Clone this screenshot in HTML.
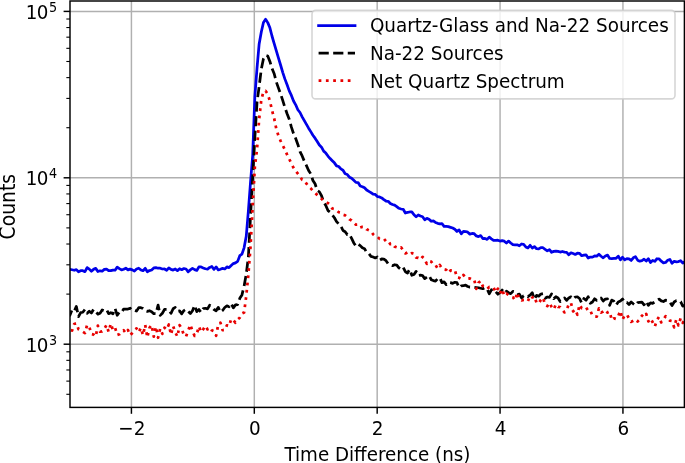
<!DOCTYPE html>
<html><head><meta charset="utf-8"><style>
html,body{margin:0;padding:0;background:#fff;}
svg{display:block;}
text{font-family:"DejaVu Sans","Liberation Sans",sans-serif;fill:#000;}
</style></head><body>
<svg width="685" height="463" viewBox="0 0 685 463">
<rect width="685" height="463" fill="#fff"/>
<defs><clipPath id="ax"><rect x="70.0" y="1.0" width="614.4" height="406.4"/></clipPath></defs>

<g stroke="#b0b0b0" stroke-width="1.46"><line x1="131.42" y1="1.0" x2="131.42" y2="407.4"/><line x1="254.30" y1="1.0" x2="254.30" y2="407.4"/><line x1="377.18" y1="1.0" x2="377.18" y2="407.4"/><line x1="500.06" y1="1.0" x2="500.06" y2="407.4"/><line x1="622.94" y1="1.0" x2="622.94" y2="407.4"/><line x1="70.0" y1="344.20" x2="684.4" y2="344.20"/><line x1="70.0" y1="177.80" x2="684.4" y2="177.80"/><line x1="70.0" y1="11.40" x2="684.4" y2="11.40"/></g>
<g clip-path="url(#ax)" fill="none" stroke-linejoin="round">
<path d="M57.01,270.14 L59.16,267.97 L61.31,269.88 L63.46,268.86 L65.61,269.28 L67.76,269.14 L69.91,269.42 L72.06,269.74 L74.21,270.25 L76.36,269.60 L78.51,271.74 L80.66,270.72 L82.81,270.65 L84.97,271.69 L87.12,267.59 L89.27,269.12 L91.42,271.19 L93.57,269.35 L95.72,268.36 L97.87,271.53 L100.02,270.79 L102.17,271.22 L104.32,269.37 L106.47,269.02 L108.62,270.67 L110.77,270.70 L112.92,270.18 L115.07,270.23 L117.22,267.14 L119.37,268.58 L121.52,269.90 L123.67,269.18 L125.82,268.17 L127.97,269.87 L130.12,269.13 L132.27,269.91 L134.42,271.11 L136.57,269.05 L138.73,268.25 L140.88,269.91 L143.03,270.73 L145.18,268.32 L147.33,271.79 L149.48,270.56 L151.63,269.95 L153.78,267.93 L155.93,267.71 L158.08,268.24 L160.23,268.20 L162.38,269.00 L164.53,268.96 L166.68,270.22 L168.83,267.92 L170.98,269.42 L173.13,270.07 L175.28,268.99 L177.43,270.64 L179.58,268.75 L181.73,269.67 L183.88,268.52 L186.03,269.00 L188.18,271.79 L190.33,269.88 L192.49,268.36 L194.64,269.60 L196.79,270.45 L198.94,266.83 L201.09,266.98 L203.24,267.93 L205.39,268.76 L207.54,269.07 L209.69,267.42 L211.84,266.50 L213.99,269.30 L216.14,266.92 L218.29,269.93 L220.44,269.18 L222.59,268.34 L224.74,268.98 L226.89,266.89 L229.04,267.60 L231.19,265.42 L233.34,263.58 L235.49,262.84 L237.64,261.37 L239.79,255.70 L241.94,254.17 L244.09,247.87 L246.25,236.28 L248.40,210.63 L250.55,181.75 L252.70,155.35 L254.85,96.40 L257.00,68.45 L259.15,43.95 L261.30,32.06 L263.45,22.54 L265.60,19.28 L267.75,22.63 L269.90,27.84 L272.05,36.26 L274.20,43.63 L276.35,50.96 L278.50,58.23 L280.65,65.23 L282.80,72.59 L284.95,79.13 L287.10,84.79 L289.25,90.88 L291.40,95.44 L293.55,101.03 L295.70,104.82 L297.85,109.74 L300.01,112.49 L302.16,116.80 L304.31,120.71 L306.46,124.43 L308.61,128.17 L310.76,131.64 L312.91,135.21 L315.06,138.14 L317.21,141.48 L319.36,145.06 L321.51,147.17 L323.66,151.14 L325.81,153.09 L327.96,156.07 L330.11,158.56 L332.26,160.73 L334.41,162.83 L336.56,165.86 L338.71,166.49 L340.86,168.91 L343.01,170.21 L345.16,173.80 L347.31,174.54 L349.46,177.18 L351.61,178.23 L353.77,180.29 L355.92,182.39 L358.07,182.54 L360.22,186.05 L362.37,186.72 L364.52,187.76 L366.67,190.02 L368.82,191.31 L370.97,192.60 L373.12,194.18 L375.27,194.46 L377.42,196.55 L379.57,196.92 L381.72,197.90 L383.87,199.64 L386.02,201.02 L388.17,201.28 L390.32,203.52 L392.47,204.52 L394.62,205.09 L396.77,206.63 L398.92,208.30 L401.07,208.99 L403.22,209.30 L405.37,213.03 L407.53,212.44 L409.68,211.97 L411.83,211.88 L413.98,214.81 L416.13,216.81 L418.28,214.91 L420.43,215.95 L422.58,216.68 L424.73,219.74 L426.88,218.37 L429.03,219.20 L431.18,221.27 L433.33,220.88 L435.48,222.41 L437.63,223.31 L439.78,223.85 L441.93,223.52 L444.08,226.43 L446.23,226.41 L448.38,226.67 L450.53,227.35 L452.68,228.07 L454.83,229.28 L456.98,231.46 L459.13,229.99 L461.29,233.75 L463.44,231.32 L465.59,231.53 L467.74,232.14 L469.89,234.12 L472.04,233.45 L474.19,233.72 L476.34,235.93 L478.49,236.63 L480.64,235.56 L482.79,238.56 L484.94,238.36 L487.09,239.43 L489.24,237.12 L491.39,238.82 L493.54,240.37 L495.69,240.32 L497.84,240.18 L499.99,241.07 L502.14,240.67 L504.29,241.16 L506.44,243.05 L508.59,241.08 L510.74,243.00 L512.89,244.65 L515.05,244.92 L517.20,244.78 L519.35,245.74 L521.50,244.00 L523.65,244.45 L525.80,246.90 L527.95,247.88 L530.10,245.32 L532.25,247.99 L534.40,246.60 L536.55,248.71 L538.70,248.95 L540.85,247.64 L543.00,247.74 L545.15,249.32 L547.30,250.78 L549.45,249.72 L551.60,252.24 L553.75,251.39 L555.90,251.08 L558.05,251.39 L560.20,252.06 L562.35,251.45 L564.50,252.12 L566.65,252.31 L568.81,254.80 L570.96,252.82 L573.11,253.57 L575.26,254.47 L577.41,253.21 L579.56,253.39 L581.71,255.73 L583.86,255.12 L586.01,254.77 L588.16,258.03 L590.31,257.04 L592.46,257.10 L594.61,255.96 L596.76,256.12 L598.91,254.21 L601.06,256.24 L603.21,257.80 L605.36,255.93 L607.51,255.10 L609.66,258.47 L611.81,258.51 L613.96,258.35 L616.11,258.27 L618.26,256.10 L620.41,259.87 L622.57,257.24 L624.72,259.94 L626.87,258.65 L629.02,258.87 L631.17,260.44 L633.32,257.79 L635.47,256.61 L637.62,260.14 L639.77,261.16 L641.92,260.68 L644.07,259.23 L646.22,261.03 L648.37,258.70 L650.52,262.54 L652.67,260.40 L654.82,261.33 L656.97,258.75 L659.12,258.82 L661.27,261.23 L663.42,262.80 L665.57,262.41 L667.72,260.30 L669.87,259.40 L672.02,263.31 L674.17,261.27 L676.33,261.80 L678.48,261.58 L680.63,260.66 L682.78,262.98 L684.93,261.61 L687.08,264.32 L689.23,262.57 L691.38,263.00 L693.53,263.56 L695.68,261.72 L697.83,262.66" stroke="#0000e8" stroke-width="2.75" stroke-linecap="square"/>
<path d="M57.01,314.85 L59.16,312.91 L61.31,310.42 L63.46,308.23 L65.61,309.29 L67.76,314.44 L69.91,315.31 L72.06,309.77 L74.21,311.24 L76.36,306.41 L78.51,316.60 L80.66,312.63 L82.81,312.24 L84.97,309.34 L87.12,313.30 L89.27,311.19 L91.42,312.97 L93.57,309.29 L95.72,311.35 L97.87,314.10 L100.02,313.25 L102.17,309.94 L104.32,310.70 L106.47,309.51 L108.62,313.65 L110.77,312.64 L112.92,313.89 L115.07,308.36 L117.22,315.29 L119.37,312.17 L121.52,312.51 L123.67,309.08 L125.82,309.19 L127.97,309.04 L130.12,308.25 L132.27,310.45 L134.42,310.46 L136.57,311.01 L138.73,307.70 L140.88,307.70 L143.03,308.60 L145.18,310.76 L147.33,311.42 L149.48,310.70 L151.63,311.64 L153.78,313.65 L155.93,313.76 L158.08,305.13 L160.23,315.37 L162.38,313.24 L164.53,309.44 L166.68,309.43 L168.83,310.18 L170.98,313.33 L173.13,308.77 L175.28,307.45 L177.43,311.14 L179.58,310.86 L181.73,313.87 L183.88,310.58 L186.03,309.33 L188.18,311.45 L190.33,313.57 L192.49,310.76 L194.64,305.34 L196.79,311.58 L198.94,309.45 L201.09,312.39 L203.24,308.61 L205.39,308.26 L207.54,308.87 L209.69,305.26 L211.84,307.24 L213.99,309.49 L216.14,310.79 L218.29,307.35 L220.44,312.14 L222.59,310.45 L224.74,307.49 L226.89,305.81 L229.04,306.73 L231.19,303.43 L233.34,307.84 L235.49,304.94 L237.64,304.55 L239.79,298.34 L241.94,294.92 L244.09,286.23 L246.25,274.14 L248.40,256.53 L250.55,215.46 L252.70,177.14 L254.85,137.69 L257.00,102.57 L259.15,86.45 L261.30,69.19 L263.45,58.77 L265.60,55.40 L267.75,56.04 L269.90,61.46 L272.05,68.53 L274.20,73.72 L276.35,82.08 L278.50,88.14 L280.65,94.04 L282.80,100.68 L284.95,107.56 L287.10,113.78 L289.25,119.25 L291.40,127.17 L293.55,133.69 L295.70,138.42 L297.85,144.45 L300.01,151.56 L302.16,155.91 L304.31,161.19 L306.46,165.57 L308.61,170.44 L310.76,173.81 L312.91,180.48 L315.06,183.77 L317.21,190.45 L319.36,191.81 L321.51,195.69 L323.66,201.92 L325.81,205.42 L327.96,210.55 L330.11,212.19 L332.26,214.88 L334.41,217.79 L336.56,221.58 L338.71,223.90 L340.86,226.07 L343.01,230.48 L345.16,231.71 L347.31,234.63 L349.46,234.26 L351.61,238.32 L353.77,242.92 L355.92,246.05 L358.07,244.17 L360.22,245.60 L362.37,247.79 L364.52,248.69 L366.67,252.49 L368.82,253.54 L370.97,256.34 L373.12,257.02 L375.27,257.91 L377.42,256.96 L379.57,260.33 L381.72,258.98 L383.87,259.14 L386.02,260.72 L388.17,263.81 L390.32,265.23 L392.47,265.71 L394.62,264.75 L396.77,265.13 L398.92,267.89 L401.07,269.44 L403.22,267.43 L405.37,271.69 L407.53,272.95 L409.68,269.33 L411.83,275.28 L413.98,274.54 L416.13,271.37 L418.28,275.64 L420.43,275.05 L422.58,275.62 L424.73,278.59 L426.88,277.08 L429.03,275.51 L431.18,279.68 L433.33,280.60 L435.48,281.10 L437.63,278.72 L439.78,277.68 L441.93,282.62 L444.08,281.89 L446.23,284.66 L448.38,282.25 L450.53,282.63 L452.68,283.36 L454.83,282.27 L456.98,282.70 L459.13,287.55 L461.29,285.75 L463.44,285.74 L465.59,285.12 L467.74,286.51 L469.89,287.18 L472.04,287.06 L474.19,287.30 L476.34,287.54 L478.49,287.75 L480.64,288.24 L482.79,288.73 L484.94,287.62 L487.09,288.87 L489.24,293.73 L491.39,289.80 L493.54,292.44 L495.69,291.66 L497.84,294.20 L499.99,292.59 L502.14,290.07 L504.29,293.16 L506.44,291.24 L508.59,292.70 L510.74,293.67 L512.89,291.41 L515.05,291.99 L517.20,294.77 L519.35,294.11 L521.50,297.94 L523.65,295.72 L525.80,295.06 L527.95,296.52 L530.10,295.14 L532.25,292.76 L534.40,299.21 L536.55,295.41 L538.70,296.21 L540.85,294.10 L543.00,293.71 L545.15,298.21 L547.30,296.99 L549.45,297.40 L551.60,293.87 L553.75,298.61 L555.90,296.75 L558.05,297.94 L560.20,301.56 L562.35,299.53 L564.50,297.93 L566.65,300.41 L568.81,297.96 L570.96,296.79 L573.11,299.09 L575.26,297.00 L577.41,296.97 L579.56,298.50 L581.71,303.03 L583.86,298.49 L586.01,300.23 L588.16,296.71 L590.31,303.26 L592.46,301.97 L594.61,298.82 L596.76,300.43 L598.91,300.22 L601.06,298.01 L603.21,301.03 L605.36,299.08 L607.51,298.87 L609.66,305.34 L611.81,300.09 L613.96,301.30 L616.11,305.17 L618.26,301.99 L620.41,301.01 L622.57,299.06 L624.72,302.56 L626.87,302.35 L629.02,304.50 L631.17,302.02 L633.32,303.77 L635.47,305.30 L637.62,302.55 L639.77,302.29 L641.92,302.08 L644.07,304.78 L646.22,301.24 L648.37,305.36 L650.52,302.90 L652.67,303.28 L654.82,302.09 L656.97,300.36 L659.12,299.08 L661.27,300.90 L663.42,301.51 L665.57,300.22 L667.72,300.35 L669.87,302.25 L672.02,305.51 L674.17,301.99 L676.33,300.59 L678.48,300.39 L680.63,301.71 L682.78,306.12 L684.93,305.35 L687.08,304.18 L689.23,301.48 L691.38,300.57 L693.53,301.99 L695.68,301.17 L697.83,302.56" stroke="#000" stroke-width="2.75" stroke-dasharray="10.18 4.40"/>
<path d="M57.01,331.33 L59.16,334.66 L61.31,335.82 L63.46,326.83 L65.61,331.17 L67.76,327.41 L69.91,329.58 L72.06,330.63 L74.21,323.95 L76.36,323.35 L78.51,329.18 L80.66,330.27 L82.81,331.81 L84.97,333.14 L87.12,324.85 L89.27,326.73 L91.42,334.08 L93.57,334.57 L95.72,336.60 L97.87,325.58 L100.02,331.73 L102.17,331.30 L104.32,329.02 L106.47,325.01 L108.62,331.82 L110.77,323.59 L112.92,330.01 L115.07,327.72 L117.22,334.96 L119.37,334.24 L121.52,331.85 L123.67,330.32 L125.82,333.31 L127.97,330.05 L130.12,335.25 L132.27,332.98 L134.42,330.32 L136.57,328.34 L138.73,332.35 L140.88,327.89 L143.03,335.06 L145.18,324.81 L147.33,337.49 L149.48,327.84 L151.63,324.98 L153.78,336.66 L155.93,326.70 L158.08,337.76 L160.23,328.48 L162.38,333.86 L164.53,327.63 L166.68,329.68 L168.83,324.51 L170.98,334.65 L173.13,326.14 L175.28,332.28 L177.43,336.62 L179.58,325.17 L181.73,328.65 L183.88,335.22 L186.03,336.58 L188.18,330.56 L190.33,324.65 L192.49,331.10 L194.64,335.93 L196.79,333.76 L198.94,326.44 L201.09,332.07 L203.24,329.23 L205.39,325.89 L207.54,329.42 L209.69,327.49 L211.84,330.31 L213.99,331.14 L216.14,335.79 L218.29,324.27 L220.44,322.72 L222.59,330.18 L224.74,330.12 L226.89,325.36 L229.04,326.26 L231.19,318.97 L233.34,320.13 L235.49,322.76 L237.64,319.53 L239.79,317.69 L241.94,313.56 L244.09,312.54 L246.25,296.02 L248.40,274.46 L250.55,246.39 L252.70,205.67 L254.85,166.85 L257.00,149.63 L259.15,119.03 L261.30,99.95 L263.45,91.64 L265.60,90.88 L267.75,94.25 L269.90,101.07 L272.05,110.33 L274.20,118.60 L276.35,129.16 L278.50,135.84 L280.65,141.06 L282.80,145.47 L284.95,149.73 L287.10,154.72 L289.25,159.14 L291.40,163.50 L293.55,167.81 L295.70,171.08 L297.85,173.68 L300.01,176.47 L302.16,179.80 L304.31,180.36 L306.46,183.63 L308.61,186.54 L310.76,188.37 L312.91,190.80 L315.06,192.75 L317.21,195.01 L319.36,197.06 L321.51,198.79 L323.66,201.04 L325.81,201.90 L327.96,203.10 L330.11,204.88 L332.26,208.49 L334.41,208.95 L336.56,210.45 L338.71,212.20 L340.86,212.58 L343.01,214.72 L345.16,215.31 L347.31,216.92 L349.46,219.28 L351.61,220.44 L353.77,222.73 L355.92,224.73 L358.07,224.60 L360.22,227.57 L362.37,226.83 L364.52,226.87 L366.67,229.35 L368.82,230.24 L370.97,231.19 L373.12,234.34 L375.27,236.05 L377.42,236.65 L379.57,238.88 L381.72,239.19 L383.87,238.58 L386.02,241.38 L388.17,240.81 L390.32,244.20 L392.47,243.60 L394.62,246.57 L396.77,247.28 L398.92,248.48 L401.07,247.44 L403.22,250.25 L405.37,253.45 L407.53,252.40 L409.68,254.36 L411.83,253.07 L413.98,253.65 L416.13,257.64 L418.28,257.76 L420.43,259.45 L422.58,256.85 L424.73,259.81 L426.88,263.92 L429.03,261.06 L431.18,261.61 L433.33,264.44 L435.48,264.97 L437.63,268.50 L439.78,265.03 L441.93,268.34 L444.08,269.34 L446.23,269.80 L448.38,272.93 L450.53,270.43 L452.68,270.42 L454.83,269.94 L456.98,277.43 L459.13,277.76 L461.29,278.99 L463.44,274.98 L465.59,277.42 L467.74,278.72 L469.89,278.46 L472.04,279.57 L474.19,279.48 L476.34,288.87 L478.49,282.83 L480.64,280.86 L482.79,286.24 L484.94,287.81 L487.09,288.98 L489.24,286.98 L491.39,287.50 L493.54,287.50 L495.69,292.25 L497.84,288.64 L499.99,293.64 L502.14,289.15 L504.29,295.74 L506.44,293.46 L508.59,295.14 L510.74,296.47 L512.89,297.27 L515.05,300.34 L517.20,292.53 L519.35,299.49 L521.50,300.49 L523.65,299.90 L525.80,299.72 L527.95,301.16 L530.10,295.76 L532.25,297.45 L534.40,296.26 L536.55,302.79 L538.70,303.58 L540.85,299.76 L543.00,297.61 L545.15,305.01 L547.30,306.13 L549.45,302.89 L551.60,306.86 L553.75,309.54 L555.90,304.30 L558.05,306.99 L560.20,307.06 L562.35,309.77 L564.50,312.36 L566.65,310.56 L568.81,303.85 L570.96,302.82 L573.11,311.40 L575.26,309.49 L577.41,314.77 L579.56,304.73 L581.71,308.22 L583.86,308.44 L586.01,307.24 L588.16,310.91 L590.31,310.50 L592.46,315.65 L594.61,316.58 L596.76,316.62 L598.91,308.35 L601.06,312.61 L603.21,311.53 L605.36,309.92 L607.51,312.59 L609.66,311.68 L611.81,320.19 L613.96,318.36 L616.11,318.99 L618.26,315.77 L620.41,310.91 L622.57,319.56 L624.72,315.32 L626.87,314.50 L629.02,318.45 L631.17,321.91 L633.32,320.73 L635.47,319.32 L637.62,321.49 L639.77,319.46 L641.92,315.57 L644.07,317.27 L646.22,313.84 L648.37,321.43 L650.52,318.51 L652.67,322.27 L654.82,326.60 L656.97,320.14 L659.12,316.72 L661.27,322.39 L663.42,319.74 L665.57,316.25 L667.72,318.73 L669.87,320.65 L672.02,321.08 L674.17,327.42 L676.33,319.39 L678.48,325.45 L680.63,318.28 L682.78,322.90 L684.93,318.60 L687.08,325.33 L689.23,320.73 L691.38,321.32 L693.53,320.19 L695.68,320.95 L697.83,320.77" stroke="#e80000" stroke-width="2.75" stroke-dasharray="2.75 4.54"/>
</g>
<g stroke="#000"><line x1="131.42" y1="407.4" x2="131.42" y2="413.79999999999995" stroke-width="1.46"/><line x1="254.30" y1="407.4" x2="254.30" y2="413.79999999999995" stroke-width="1.46"/><line x1="377.18" y1="407.4" x2="377.18" y2="413.79999999999995" stroke-width="1.46"/><line x1="500.06" y1="407.4" x2="500.06" y2="413.79999999999995" stroke-width="1.46"/><line x1="622.94" y1="407.4" x2="622.94" y2="413.79999999999995" stroke-width="1.46"/><line x1="70.0" y1="344.20" x2="63.6" y2="344.20" stroke-width="1.46"/><line x1="70.0" y1="177.80" x2="63.6" y2="177.80" stroke-width="1.46"/><line x1="70.0" y1="11.40" x2="63.6" y2="11.40" stroke-width="1.46"/><line x1="70.0" y1="394.29" x2="66.34" y2="394.29" stroke-width="1.1"/><line x1="70.0" y1="381.12" x2="66.34" y2="381.12" stroke-width="1.1"/><line x1="70.0" y1="369.98" x2="66.34" y2="369.98" stroke-width="1.1"/><line x1="70.0" y1="360.33" x2="66.34" y2="360.33" stroke-width="1.1"/><line x1="70.0" y1="351.81" x2="66.34" y2="351.81" stroke-width="1.1"/><line x1="70.0" y1="294.11" x2="66.34" y2="294.11" stroke-width="1.1"/><line x1="70.0" y1="264.81" x2="66.34" y2="264.81" stroke-width="1.1"/><line x1="70.0" y1="244.02" x2="66.34" y2="244.02" stroke-width="1.1"/><line x1="70.0" y1="227.89" x2="66.34" y2="227.89" stroke-width="1.1"/><line x1="70.0" y1="214.72" x2="66.34" y2="214.72" stroke-width="1.1"/><line x1="70.0" y1="203.58" x2="66.34" y2="203.58" stroke-width="1.1"/><line x1="70.0" y1="193.93" x2="66.34" y2="193.93" stroke-width="1.1"/><line x1="70.0" y1="185.41" x2="66.34" y2="185.41" stroke-width="1.1"/><line x1="70.0" y1="127.71" x2="66.34" y2="127.71" stroke-width="1.1"/><line x1="70.0" y1="98.41" x2="66.34" y2="98.41" stroke-width="1.1"/><line x1="70.0" y1="77.62" x2="66.34" y2="77.62" stroke-width="1.1"/><line x1="70.0" y1="61.49" x2="66.34" y2="61.49" stroke-width="1.1"/><line x1="70.0" y1="48.32" x2="66.34" y2="48.32" stroke-width="1.1"/><line x1="70.0" y1="37.18" x2="66.34" y2="37.18" stroke-width="1.1"/><line x1="70.0" y1="27.53" x2="66.34" y2="27.53" stroke-width="1.1"/><line x1="70.0" y1="19.01" x2="66.34" y2="19.01" stroke-width="1.1"/></g>
<rect x="70.0" y="1.0" width="614.4" height="406.4" fill="none" stroke="#000" stroke-width="1.46"/>
<text transform="translate(131.92,434.90) scale(1.0,1.1)" font-size="18.4" text-anchor="middle">−2</text><text transform="translate(254.80,434.90) scale(1.0,1.1)" font-size="18.4" text-anchor="middle">0</text><text transform="translate(377.68,434.90) scale(1.0,1.1)" font-size="18.4" text-anchor="middle">2</text><text transform="translate(500.56,434.90) scale(1.0,1.1)" font-size="18.4" text-anchor="middle">4</text><text transform="translate(623.44,434.90) scale(1.0,1.1)" font-size="18.4" text-anchor="middle">6</text><text transform="translate(25.80,351.60) scale(1.0,1.08)" font-size="18.3">1</text><text transform="translate(36.80,351.60) scale(1.0,1.08)" font-size="18.3">0</text><text transform="translate(49.10,344.70) scale(1.0,1.1)" font-size="12.81">3</text><text transform="translate(25.80,185.20) scale(1.0,1.08)" font-size="18.3">1</text><text transform="translate(36.80,185.20) scale(1.0,1.08)" font-size="18.3">0</text><text transform="translate(49.10,178.30) scale(1.0,1.1)" font-size="12.81">4</text><text transform="translate(25.80,18.80) scale(1.0,1.08)" font-size="18.3">1</text><text transform="translate(36.80,18.80) scale(1.0,1.08)" font-size="18.3">0</text><text transform="translate(49.10,11.90) scale(1.0,1.1)" font-size="12.81">5</text>
<text transform="translate(377.40,461.00) scale(1.0,1.1)" font-size="18.3" text-anchor="middle">Time Difference (ns)</text>
<text transform="translate(14.60,206.70) rotate(-90) scale(1.0,1.1)" font-size="18.75" text-anchor="middle">Counts</text>
<rect x="312.0" y="10.4" width="363.0" height="88.5" rx="3.7" fill="#fff" fill-opacity="0.8" stroke="#cccccc" stroke-opacity="0.8" stroke-width="1.6"/>
<line x1="318.6" y1="25.5" x2="355.0" y2="25.5" stroke="#0000e8" stroke-width="2.75" stroke-linecap="square"/>
<line x1="318.6" y1="53.2" x2="355.0" y2="53.2" stroke="#000" stroke-width="2.75" stroke-dasharray="10.18 4.40"/>
<line x1="318.6" y1="80.7" x2="355.0" y2="80.7" stroke="#e80000" stroke-width="2.75" stroke-dasharray="2.75 4.54"/>
<text transform="translate(369.90,32.20) scale(1.0,1.1)" font-size="18.4">Quartz-Glass and Na-22 Sources</text>
<text transform="translate(369.90,60.10) scale(1.0,1.1)" font-size="18.4">Na-22 Sources</text>
<text transform="translate(369.90,87.60) scale(1.0,1.1)" font-size="18.4">Net Quartz Spectrum</text>
</svg></body></html>
